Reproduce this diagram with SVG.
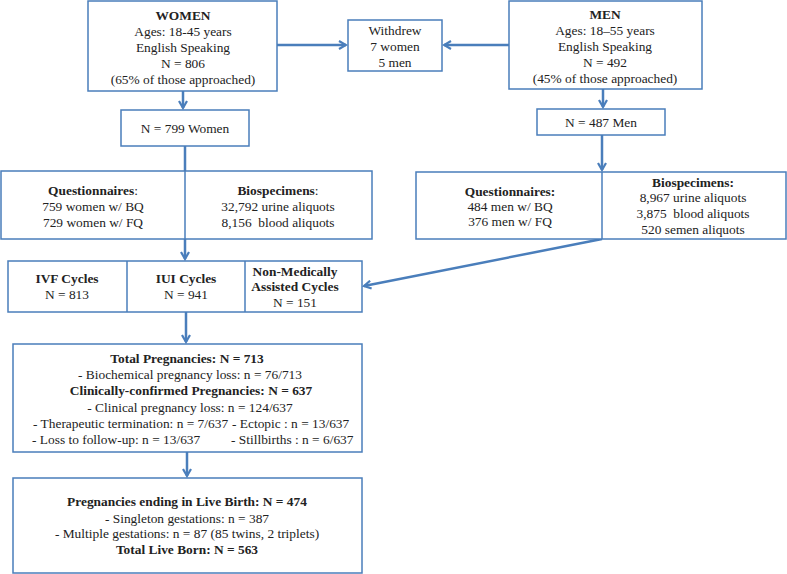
<svg xmlns="http://www.w3.org/2000/svg" width="787" height="574" viewBox="0 0 787 574">
<defs>
<style>
.box{fill:#fff;stroke:#4a7ebb;stroke-width:1.5}
.div{stroke:#4a7ebb;stroke-width:1.5}
.con{fill:none;stroke:#4a7ebb;stroke-width:2.5}
text{font-family:"Liberation Serif","Times New Roman",serif;font-size:13.4px;fill:#222;text-anchor:middle;white-space:pre}
.b{font-weight:bold}
.s{text-anchor:start}
</style>
<marker id="ah" viewBox="0 0 10 10" refX="8" refY="5" markerWidth="4" markerHeight="4" orient="auto" markerUnits="strokeWidth">
<path d="M1,1 L8,5 L1,9" fill="none" stroke="#4a7ebb" stroke-width="2.2"/>
</marker>
</defs>
<rect width="787" height="574" fill="#fff"/>
<g id="connectors">
<line class="con" x1="277" y1="45" x2="346" y2="45" marker-end="url(#ah)"/>
<line class="con" x1="509" y1="45" x2="444" y2="45" marker-end="url(#ah)"/>
<line class="con" x1="183" y1="91" x2="183" y2="108" marker-end="url(#ah)"/>
<line class="con" x1="603" y1="89" x2="603" y2="107" marker-end="url(#ah)"/>
<line class="con" x1="185" y1="146" x2="185" y2="259" marker-end="url(#ah)"/>
<line class="con" x1="602" y1="135" x2="602" y2="170" marker-end="url(#ah)"/>
<line class="con" x1="602" y1="239" x2="364" y2="286" marker-end="url(#ah)"/>
<line class="con" x1="186" y1="312" x2="186" y2="342" marker-end="url(#ah)"/>
<line class="con" x1="187" y1="452" x2="187" y2="476" marker-end="url(#ah)"/>
</g>
<g id="women">
<rect class="box" x="88" y="1" width="189" height="90"/>
<text class="b" x="183" y="20">WOMEN</text>
<text x="183" y="36">Ages: 18-45 years</text>
<text x="183" y="52">English Speaking</text>
<text x="183" y="68">N = 806</text>
<text x="183" y="84">(65% of those approached)</text>
</g>
<g id="withdrew">
<rect class="box" x="348" y="20" width="94" height="51"/>
<text x="395" y="35">Withdrew</text>
<text x="395" y="51">7 women</text>
<text x="395" y="67">5 men</text>
</g>
<g id="men">
<rect class="box" x="509" y="1" width="193" height="88"/>
<text class="b" x="605" y="19">MEN</text>
<text x="605" y="35">Ages: 18–55 years</text>
<text x="605" y="51">English Speaking</text>
<text x="605" y="67">N = 492</text>
<text x="605" y="83">(45% of those approached)</text>
</g>
<g id="women799">
<rect class="box" x="121" y="110" width="128" height="36"/>
<text x="185" y="133">N = 799 Women</text>
</g>
<g id="men487">
<rect class="box" x="537" y="109" width="128" height="26"/>
<text x="601" y="127">N = 487 Men</text>
</g>
<g id="women-data">
<rect class="box" x="1" y="171" width="371" height="68"/>
<line class="div" x1="185" y1="171" x2="185" y2="239"/>
<text x="93" y="195"><tspan class="b">Questionnaires</tspan>:</text>
<text x="93" y="211">759 women w/ BQ</text>
<text x="93" y="227">729 women w/ FQ</text>
<text x="278" y="195"><tspan class="b">Biospecimens</tspan>:</text>
<text x="278" y="211">32,792 urine aliquots</text>
<text x="278" y="227">8,156  blood aliquots</text>
</g>
<g id="men-data">
<rect class="box" x="416" y="172" width="370" height="67"/>
<line class="div" x1="602" y1="172" x2="602" y2="239"/>
<text class="b" x="510" y="196">Questionnaires:</text>
<text x="510" y="211">484 men w/ BQ</text>
<text x="510" y="226">376 men w/ FQ</text>
<text class="b" x="693" y="187">Biospecimens:</text>
<text x="693" y="202">8,967 urine aliquots</text>
<text x="693" y="218">3,875  blood aliquots</text>
<text x="693" y="234">520 semen aliquots</text>
</g>
<g id="cycles">
<rect class="box" x="8" y="261" width="354" height="51"/>
<line class="div" x1="127" y1="261" x2="127" y2="312"/>
<line class="div" x1="245" y1="261" x2="245" y2="312"/>
<text class="b" x="67" y="283">IVF Cycles</text>
<text x="67" y="299">N = 813</text>
<text class="b" x="186" y="283">IUI Cycles</text>
<text x="186" y="299">N = 941</text>
<text class="b" x="295" y="276">Non-Medically</text>
<text class="b" x="295" y="291">Assisted Cycles</text>
<text x="295" y="307">N = 151</text>
</g>
<g id="pregnancies">
<rect class="box" x="13" y="344" width="349" height="108"/>
<text class="b" x="187" y="363">Total Pregnancies: N = 713</text>
<text x="190" y="379">- Biochemical pregnancy loss: n = 76/713</text>
<text class="b" x="191" y="395">Clinically-confirmed Pregnancies: N = 637</text>
<text x="190" y="412">- Clinical pregnancy loss: n = 124/637</text>
<text class="s" x="33" y="428">- Therapeutic termination: n = 7/637</text>
<text class="s" x="232" y="428">- Ectopic : n = 13/637</text>
<text class="s" x="32" y="444">- Loss to follow-up: n = 13/637</text>
<text class="s" x="231" y="444">- Stillbirths : n = 6/637</text>
</g>
<g id="livebirth">
<rect class="box" x="13" y="478" width="349" height="95"/>
<text class="b" x="187" y="506">Pregnancies ending in Live Birth: N = 474</text>
<text x="187" y="523">- Singleton gestations: n = 387</text>
<text x="187" y="538">- Multiple gestations: n = 87 (85 twins, 2 triplets)</text>
<text class="b" x="187" y="554">Total Live Born: N = 563</text>
</g>
</svg>
